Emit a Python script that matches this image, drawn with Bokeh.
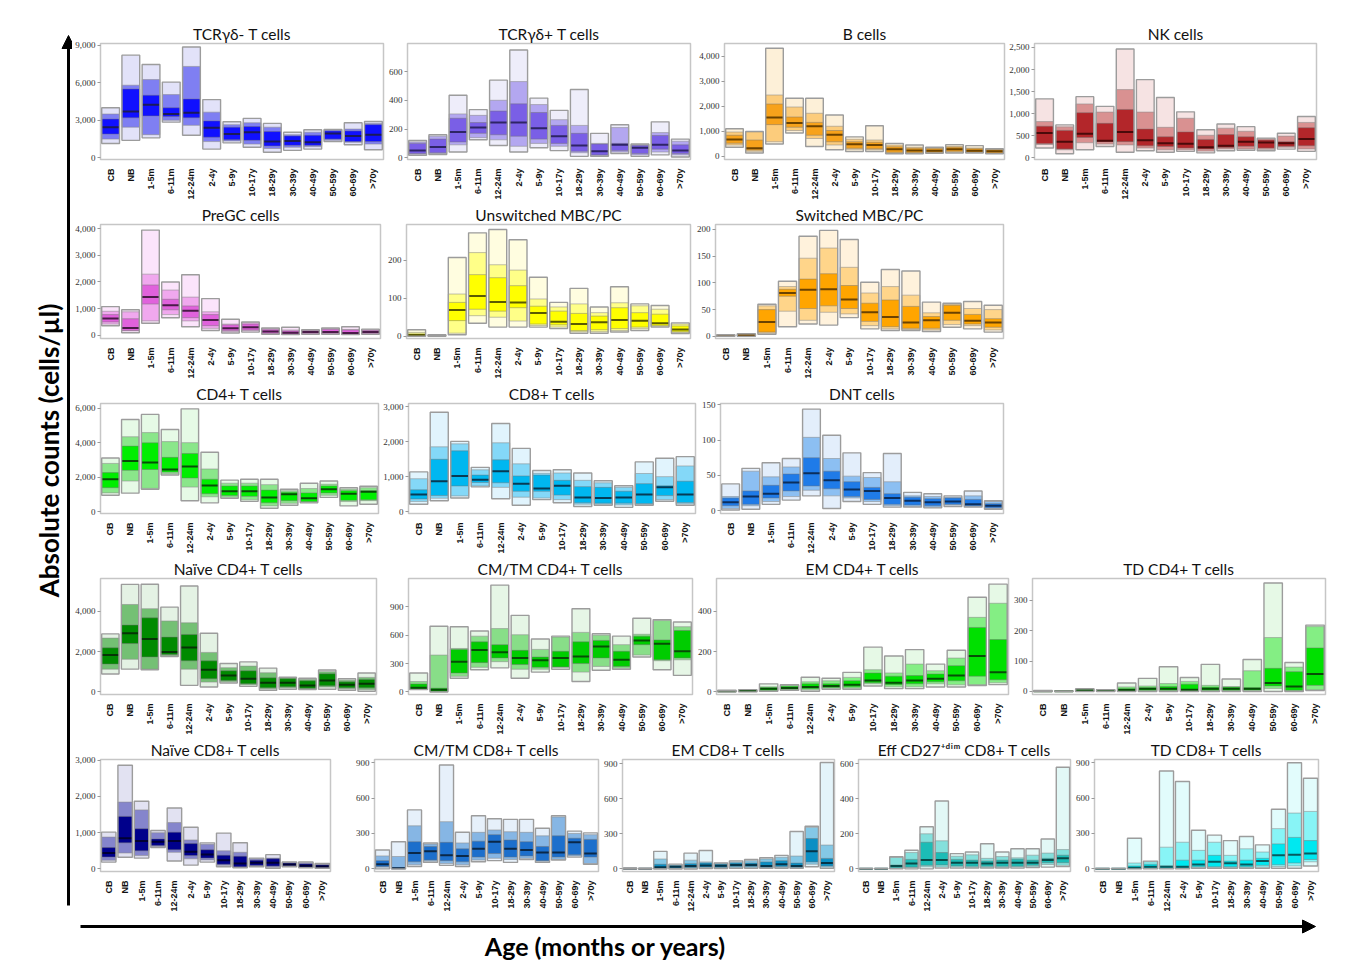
import math
from bokeh.plotting import figure
from bokeh.models import (ColumnDataSource, Range1d, FixedTicker, NumeralTickFormatter,
                          Spacer, Arrow, NormalHead, Label)
from bokeh.layouts import row, column
from bokeh.embed import file_html
from bokeh.resources import INLINE

AGES = ["CB", "NB", "1-5m", "6-11m", "12-24m", "2-4y", "5-9y", "10-17y",
        "18-29y", "30-39y", "40-49y", "50-59y", "60-69y", ">70y"]

# each row: [min, p10, p25, median, p75, p90, max] per age group
tcrgd_neg = [[1150,1500,1900,2450,3100,3500,4000],[1400,2450,3200,3700,5500,5800,8200],
             [1600,1850,3350,4250,5000,6250,7450],[2850,3000,3300,3500,4000,5050,6050],
             [1800,2600,3200,3600,4700,7300,8850],[700,1300,1650,2400,2950,3650,4650],
             [1200,1350,1450,1900,2450,2650,2880],[850,1100,1400,2050,2500,2800,3150],
             [450,750,950,1300,2100,2450,2750],[600,850,1000,1350,1750,1850,2050],
             [700,900,1000,1250,1800,2050,2240],[1300,1400,1500,1950,2150,2250,2270],
             [1050,1250,1300,1750,2150,2300,2800],[650,1100,1300,1850,2650,2750,2900]]
tcrgd_pos = [[18,25,30,50,100,110,120],[23,30,35,75,130,150,160],[40,90,110,180,275,305,435],
             [125,140,170,210,245,295,335],[85,125,160,245,325,400,540],[40,80,150,245,375,530,750],
             [70,100,130,205,315,370,415],[50,80,100,150,225,265,330],[10,35,45,85,170,225,475],
             [10,15,20,45,95,100,170],[30,40,50,90,100,210,230],[10,20,30,70,85,92,96],
             [20,40,60,90,155,175,250],[5,20,30,50,90,115,130]]
b_cells = [[360,450,520,670,840,970,1100],[130,200,250,320,650,970,995],
           [490,580,1265,1550,2090,2450,4320],[930,1030,1160,1330,1570,1970,2320],
           [390,710,840,1200,1355,1720,2320],[260,450,580,865,1030,1200,1650],
           [190,280,320,480,580,680,775],[190,260,300,450,560,650,1220],
           [100,130,160,280,380,450,515],[100,120,150,230,320,360,450],
           [120,140,160,220,300,330,360],[130,160,200,280,360,400,465],
           [130,150,170,220,300,330,425],[100,120,140,200,260,280,300]]
nk_cells = [[220,300,320,560,715,820,1335],[90,180,200,365,620,700,745],
            [180,340,460,545,1020,1220,1385],[255,310,365,385,780,1035,1165],
            [125,290,365,585,1095,1545,2465],[160,220,270,395,650,1035,1770],
            [125,180,255,330,475,690,1365],[145,180,220,315,585,895,1040],
            [110,150,200,235,415,510,635],[160,200,230,270,525,670,765],
            [170,200,260,365,474,600,705],[160,190,220,345,400,430,445],
            [195,240,260,330,364,490,555],[145,200,270,425,680,800,935]]
pregc = [[360,420,500,630,775,900,1075],[95,170,180,275,620,880,955],
         [450,540,1170,1430,1885,2290,3940],[655,775,955,1130,1350,1695,1995],
         [320,540,660,920,1100,1430,2270],[180,260,360,575,775,880,1375],
         [85,140,180,265,390,420,600],[120,170,200,300,420,470,500],
         [35,60,80,140,210,250,275],[25,40,55,95,160,200,300],
         [35,60,80,120,170,190,205],[35,60,80,120,220,250,275],
         [25,40,55,85,200,220,320],[35,60,80,120,180,210,230]]
unswitched = [[0,1,2,3,6,10,17],[0,0.5,1,1.5,2,3,4],[4,8,41,69,89,111,207],
              [34,54,71,106,162,220,272],[24,50,66,90,154,188,281],[24,40,75,89,133,174,254],
              [24,28,32,61,79,98,155],[20,24,30,38,66,77,89],[8,12,15,32,60,85,126],
              [8,12,17,37,53,62,77],[11,15,20,43,75,88,130],[15,20,24,41,62,80,85],
              [24,26,28,34,58,71,81],[7,10,12,18,27,32,35]]
switched = [[0,0.3,0.6,1,1.5,2,3],[0,0.5,1,2,3,4,5],[4,6,8,27,50,57,60],
            [18,47,75,81,88,93,103],[23,30,52,87,107,146,187],[21,45,57,88,117,165,198],
            [35,42,52,69,95,129,181],[14,20,28,45,62,81,101],[11,14,18,36,68,93,125],
            [11,13,15,26,56,77,122],[9,12,15,30,37,44,64],[17,22,30,44,58,60,62],
            [14,20,23,29,41,52,65],[8,12,17,26,33,50,58]]
cd4 = [[960,1100,1400,1890,2270,2800,3110],[1085,1785,2400,2940,3800,4340,5335],
       [1310,1360,2450,2850,3990,4580,5630],[2135,2200,2300,2450,3150,4060,4760],
       [650,1435,1960,2625,3375,4000,5950],[525,875,1050,1520,1890,2480,3445],
       [790,850,950,1190,1500,1660,1835],[610,700,900,1190,1500,1660,1890],
       [210,350,525,840,1260,1575,1890],[385,500,650,1015,1135,1225,1310],
       [525,560,600,790,1100,1350,1660],[840,960,1100,1310,1500,1600,1785],
       [350,600,670,1050,1225,1310,1400],[440,650,700,1170,1225,1400,1485]]
cd8 = [[220,300,370,500,630,945,1140],[320,390,465,875,1500,1855,2840],
       [395,455,740,1025,1740,1940,2010],[715,740,840,920,1050,1200,1270],
       [375,700,830,1160,1485,1970,2520],[190,420,590,800,1025,1370,1810],
       [350,395,590,670,1050,1100,1180],[260,350,480,745,900,1110,1200],
       [155,220,260,410,720,900,1110],[190,220,250,395,700,830,890],
       [130,200,250,410,590,700,745],[190,210,240,500,805,1095,1425],
       [305,350,465,700,745,1005,1530],[190,230,265,500,875,1310,1575]]
dnt = [[1,3,7,12,18,20,38],[2,7,9,20,28,56,60],[9,13,18,24,36,48,68],[15,20,28,40,52,62,74],
       [21,29,35,53,75,104,144],[3,21,31,43,56,74,107],[13,18,20,30,41,49,82],
       [9,13,16,28,33,47,54],[5,7,9,18,24,41,81],[5,6,8,14,19,21,26],[4,5,7,12,17,20,24],
       [6,8,9,13,18,19,21],[5,6,7,9,16,21,28],[2,3,4,7,10,13,14]]
naive_cd4 = [[890,1130,1380,1830,2190,2670,2880],[1130,1620,2400,2915,3320,4340,5340],
             [1100,1130,1735,2625,3675,4130,5345],[1750,1800,1860,1975,2720,3520,4210],
             [325,1130,1540,2200,2850,3430,5260],[245,485,650,1100,1540,1960,2915],
             [440,500,570,810,1050,1200,1410],[275,350,400,650,1050,1280,1490],
             [80,150,200,450,700,950,1180],[130,200,250,450,650,700,730],
             [110,150,180,320,550,620,680],[130,240,300,565,900,1000,1085],
             [80,150,200,355,500,580,650],[30,120,200,405,620,720,940]]
cmtm_cd4 = [[25,30,35,45,85,110,200],[0,3,6,24,40,390,695],[145,165,200,320,450,460,690],
            [235,260,310,445,530,590,645],[255,320,360,420,500,670,1130],
            [145,240,290,360,440,605,810],[210,240,260,335,370,450,560],
            [240,260,265,360,430,580,590],[110,210,300,375,530,630,880],
            [230,270,360,480,545,600,615],[240,250,270,340,430,500,590],
            [370,390,500,545,590,610,780],[235,330,340,510,550,755,765],
            [175,340,360,430,650,690,740]]
em_cd4 = [[0,0.5,1,3,5,6,8],[0,1,2,5,8,9,11],[3,5,8,16,20,25,40],[8,10,13,19,28,32,36],
          [3,10,16,24,40,50,73],[13,18,22,29,40,55,68],[13,18,25,36,55,72,97],
          [29,40,45,57,94,110,222],[16,25,36,45,78,94,178],[16,25,40,57,81,138,210],
          [24,40,50,65,89,105,138],[24,35,55,81,130,168,207],[32,36,78,178,320,370,470],
          [36,45,60,97,260,440,535]]
td_cd4 = [[0,0.3,0.6,1,1.5,2,3],[0,0.3,0.6,1,1.5,2,2],[0,1,2,4,6,7,9],[0,1,2,4,5,5.5,6],
          [0,2,4,5,10,15,28],[0,2,4,9,12,18,43],[0,2,4,9,16,26,81],[0,2,4,6,24,33,46],
          [0,2,4,9,14,20,89],[0,2,4,9,14,16,41],[0,2,5,9,12,68,105],[0,10,18,28,76,177,356],
          [0,2,4,16,65,80,95],[3,5,20,57,143,213,218]]
naive_cd8 = [[190,240,330,440,590,880,1015],[325,440,720,850,1450,1845,2860],
             [300,370,500,770,1110,1630,1870],[590,620,650,750,830,1000,1060],
             [220,460,530,770,1015,1280,1680],[105,280,370,475,700,800,1150],
             [190,250,300,400,530,680,720],[60,100,130,240,380,500,990],
             [35,50,60,150,350,460,725],[60,80,100,170,240,280,300],
             [18,50,80,170,280,300,395],[60,80,100,125,160,180,195],
             [35,50,60,90,140,170,195],[18,30,40,70,110,130,150]]
cmtm_cd8 = [[0,15,20,40,70,110,160],[0,2,3,5,12,105,230],[20,35,60,135,230,365,500],
            [55,65,75,150,190,210,220],[30,45,70,115,225,400,880],[20,35,60,110,170,220,310],
            [60,75,100,170,235,310,450],[70,90,130,230,290,330,425],[55,80,100,170,245,315,420],
            [80,90,110,160,230,310,420],[55,65,70,140,190,280,345],[75,80,100,140,280,440,450],
            [100,110,120,225,260,300,320],[40,45,100,130,250,290,305]]
em_cd8 = [[0,0.5,1,2,4,6,8],[0,0.5,1,2,3,4,6],[0,5,8,15,40,85,150],[0,5,10,19,27,32,41],
          [0,8,12,25,45,75,135],[3,10,17,30,50,60,157],[3,10,15,28,40,48,52],
          [5,10,20,33,50,60,69],[5,10,20,33,50,70,80],[5,10,15,25,60,85,96],
          [5,12,20,40,70,100,116],[5,10,15,25,50,110,320],[19,40,60,150,260,355,365],
          [5,15,25,50,90,204,910]]
eff_cd27 = [[0,0.3,0.6,1,1.5,2,3],[0,0.3,0.6,1,1.5,2,3],[0,3,6,17,22,65,69],
            [0,7,10,31,54,93,106],[0,12,20,50,152,200,240],[4,10,22,50,93,160,387],
            [4,10,17,35,54,72,87],[4,8,15,35,50,80,96],[4,8,15,30,45,60,143],
            [4,8,15,35,50,70,96],[4,10,15,35,55,63,115],[7,12,20,35,50,78,115],
            [10,25,35,50,60,90,170],[13,20,35,60,78,110,580]]
td_cd8 = [[0,0.3,0.6,1,1.5,2,3],[0,0.3,0.6,1,1.5,2,3],[0,2,5,10,25,50,260],
          [0,5,10,19,40,60,66],[0,5,10,19,25,184,830],[0,5,10,19,74,226,740],
          [5,10,19,38,74,157,327],[5,10,19,60,115,226,286],[5,10,19,47,66,115,240],
          [5,10,19,38,74,170,275],[5,15,30,66,90,143,204],[5,20,35,115,212,341,506],
          [5,25,50,120,267,473,900],[25,60,80,130,240,487,768]]

TITLES = ["TCRγδ- T cells", "TCRγδ+ T cells", "B cells", "NK cells",
          "PreGC cells", "Unswitched MBC/PC", "Switched MBC/PC",
          "CD4+ T cells", "CD8+ T cells", "DNT cells",
          "Naïve CD4+ T cells", "CM/TM CD4+ T cells", "EM CD4+ T cells", "TD CD4+ T cells",
          "Naïve CD8+ T cells", "CM/TM CD8+ T cells", "EM CD8+ T cells",
          "Eff CD27\u207a\u1d48\u2071\u1d50 CD8+ T cells", "TD CD8+ T cells"]
Y_TICKS = [[0,3000,6000,9000],[0,200,400,600],[0,1000,2000,3000,4000],[0,500,1000,1500,2000,2500],
           [0,1000,2000,3000,4000],[0,100,200],[0,50,100,150,200],
           [0,2000,4000,6000],[0,1000,2000,3000],[0,50,100,150],
           [0,2000,4000],[0,300,600,900],[0,200,400],[0,100,200,300],
           [0,1000,2000,3000],[0,300,600,900],[0,300,600,900],[0,200,400,600],[0,300,600,900]]
Y_RANGES = [(-130,9130),(-12,795),(-130,4510),(-40,2590),
            (-120,4150),(-6,294),(-4,209),
            (-90,6260),(-45,3090),(-4,152),
            (-130,5630),(-27,1200),(-13,563),(-10,371),
            (-70,3020),(-22,927),(-22,935),(-15,624),(-22,927)]
DATA = [tcrgd_neg, tcrgd_pos, b_cells, nk_cells, pregc, unswitched, switched, cd4, cd8, dnt,
        naive_cd4, cmtm_cd4, em_cd4, td_cd4, naive_cd8, cmtm_cd8, em_cd8, eff_cd27, td_cd8]

# palettes: lightest (min-max), light (p10-p90), strong (p25-p75), median line
PAL = [("#e2e2f9","#7f7ff2","#1010ff","#1a1a5a"), ("#eeedfa","#b3a7f0","#7a5fe6","#2e2466"),
       ("#fdf0d8","#fccc7c","#f7a21b","#6b4200"), ("#f6e3e3","#d99191","#b3262a","#4a0a0a"),
       ("#fbe4fb","#f0a8ee","#e062dc","#4a1a48"), ("#fffde0","#ffff88","#ffff00","#5a5a00"),
       ("#fff2dc","#ffd58a","#ffa500","#6b4200"), ("#e6fae6","#8ae68a","#00ee00","#064d06"),
       ("#e1f4fd","#84d8f8","#00b7f0","#063b55"), ("#e3eefb","#8cbff2","#1f7be8","#0b2e5c"),
       ("#e4f2e4","#74c074","#008a00","#063306"), ("#e6f6e6","#88de88","#00cc00","#064d06"),
       ("#e6f9e6","#84ee84","#00e000","#064d06"), ("#e6f9e6","#84ee84","#00e000","#064d06"),
       ("#e2e2f2","#8585cc","#00008b","#000033"), ("#e6f0fa","#86b6e4","#1c6fcc","#0a2848"),
       ("#e4f4fa","#84c8e6","#0b8fc4","#05354a"), ("#e2f8f6","#84e0dc","#1cbcb6","#064a48"),
       ("#e2fcfc","#88f4f6","#00e8f0","#055a5e")]

# layout: rows of (panel index, frame x0, frame x1, left border), page coordinates
ROWS = [
    dict(top=35, fh=120, bottom=39, panels=[(0, 97, 383, 25), (1, 403, 690, 18), (2, 723, 1004, 27), (3, 1032, 1316, 26)]),
    dict(top=22, fh=120, bottom=37, panels=[(4, 99, 380, 27), (5, 404, 690, 20), (6, 713, 1003, 20)]),
    dict(top=22, fh=118, bottom=35, panels=[(7, 99, 378, 27), (8, 405, 695, 25), (9, 718, 1003, 20)]),
    dict(top=22, fh=122, bottom=37, panels=[(10, 99, 376, 27), (11, 406, 692, 20), (12, 714, 1008, 20), (13, 1030, 1325, 20)]),
    dict(top=22, fh=121, bottom=34, panels=[(14, 100, 330, 28), (15, 372, 598, 20), (16, 620, 834, 20), (17, 857, 1070, 21), (18, 1090, 1318, 18)]),
]
RB = 2
BAR_W = 0.88
ORIGIN = 8


def make_panel(i, L, fw, top, fh, bottom):
    light, mid, strong, medc = PAL[i]
    d = DATA[i]
    src = ColumnDataSource(dict(x=AGES, mn=[r[0] for r in d], p10=[r[1] for r in d],
                                p25=[r[2] for r in d], med=[r[3] for r in d],
                                p75=[r[4] for r in d], p90=[r[5] for r in d],
                                mx=[r[6] for r in d]))
    p = figure(x_range=AGES, y_range=Range1d(*Y_RANGES[i]), width=L + fw + RB,
               height=top + fh + bottom, output_backend="svg", toolbar_location=None,
               min_border_left=L, min_border_right=RB, min_border_top=top,
               min_border_bottom=bottom)
    p.title.text = TITLES[i]
    p.title.align = "center"
    p.title.text_font = "Lato"
    p.title.text_font_size = "15.5px"
    p.title.text_font_style = "normal"
    p.title.text_color = "#111111"
    p.title.standoff = 1
    p.vbar(x="x", width=BAR_W, bottom="mn", top="mx", fill_color=light, line_color=None, source=src)
    p.vbar(x="x", width=BAR_W, bottom="p10", top="p90", fill_color=mid, line_color="#8a8a8a",
           line_alpha=0.55, line_width=1, source=src)
    p.vbar(x="x", width=BAR_W, bottom="p25", top="p75", fill_color=strong, line_color="#707070",
           line_alpha=0.45, line_width=1, source=src)
    p.vbar(x="x", width=BAR_W, bottom="med", top="med", fill_color=None, line_color=medc,
           line_width=2, source=src)
    p.vbar(x="x", width=BAR_W, bottom="mn", top="mx", fill_color=None, line_color="#9c9c9c",
           line_width=1.4, source=src)
    p.xgrid.visible = False
    p.ygrid.visible = False
    p.outline_line_color = "#c6c6c6"
    p.outline_line_width = 1.5
    xa = p.xaxis[0]
    xa.major_label_orientation = math.pi / 2
    xa.major_label_text_font = "Liberation Sans"
    xa.major_label_text_font_size = "9px"
    xa.major_label_text_font_style = "bold"
    xa.major_label_text_color = "#111111"
    xa.major_label_standoff = 3
    xa.axis_line_color = None
    xa.major_tick_line_color = None
    xa.minor_tick_line_color = None
    ya = p.yaxis[0]
    ya.ticker = FixedTicker(ticks=Y_TICKS[i])
    ya.formatter = NumeralTickFormatter(format="0,0")
    ya.major_label_text_font = "Liberation Serif"
    ya.major_label_text_font_size = "9px"
    ya.major_label_text_color = "#333333"
    ya.major_label_standoff = 2
    ya.major_tick_out = 3
    ya.major_tick_in = 0
    ya.major_tick_line_color = "#999999"
    ya.minor_tick_line_color = None
    ya.axis_line_color = None
    return p


rows = []
for r in ROWS:
    children = []
    cur = 72
    for (i, x0, x1, L) in r["panels"]:
        start = x0 - L
        gap = start - cur
        if gap > 0:
            children.append(Spacer(width=gap, height=1))
        p = make_panel(i, L, x1 - x0, r["top"], r["fh"], r["bottom"])
        children.append(p)
        cur = max(cur, start) + L + (x1 - x0) + RB
    rows.append(row(children))

total_h = sum(r["top"] + r["fh"] + r["bottom"] for r in ROWS)

left = figure(width=64, height=total_h, x_range=Range1d(0, 64), y_range=Range1d(0, total_h),
              output_backend="svg", toolbar_location=None, min_border=0,
              x_axis_type=None, y_axis_type=None, outline_line_color=None)
left.grid.grid_line_color = None
left.add_layout(Arrow(end=NormalHead(size=13, fill_color="black", line_color="black"),
                      x_start=60, y_start=total_h - 897, x_end=60, y_end=total_h - 27,
                      line_width=3, line_color="black"))
left.add_layout(Label(x=40, y=total_h - 442, text="Absolute counts (cells/µl)", angle=math.pi / 2,
                      text_align="center", text_baseline="middle", text_font="Lato",
                      text_font_size="26px", text_font_style="bold", text_color="black"))

bottom = figure(width=1342, height=48, x_range=Range1d(0, 1342), y_range=Range1d(0, 48),
                output_backend="svg", toolbar_location=None, min_border=0,
                x_axis_type=None, y_axis_type=None, outline_line_color=None)
bottom.grid.grid_line_color = None
bottom.add_layout(Arrow(end=NormalHead(size=13, fill_color="black", line_color="black"),
                        x_start=72, y_start=36, x_end=1307, y_end=36,
                        line_width=3, line_color="black"))
bottom.add_layout(Label(x=597, y=17, text="Age (months or years)", text_align="center",
                        text_baseline="middle", text_font="Lato", text_font_size="25px",
                        text_font_style="bold", text_color="black"))

layout = column(Spacer(width=1, height=ORIGIN),
                row(Spacer(width=ORIGIN, height=1),
                    column(row(left, column(rows)), bottom)))
open("out.html", "w").write(file_html(layout, INLINE))
